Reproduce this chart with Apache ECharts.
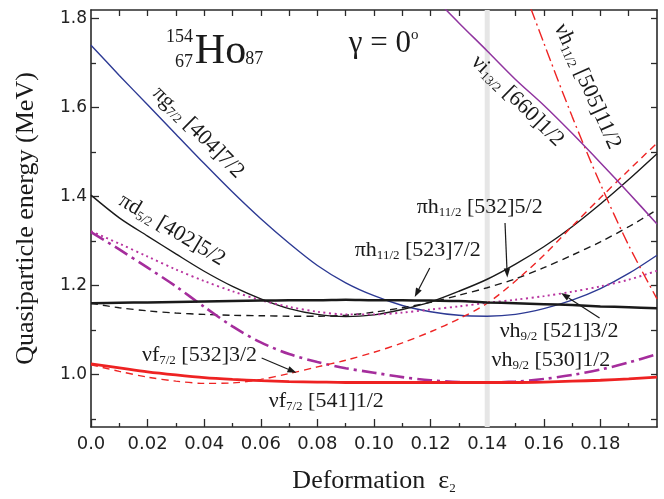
<!DOCTYPE html>
<html><head><meta charset="utf-8">
<script src="https://cdn.jsdelivr.net/npm/echarts@6/dist/echarts.min.js"></script>
<style>html,body{margin:0;padding:0;background:#fff}#c{width:664px;height:499px}</style>
</head><body><div id="c"></div>
<script>
// ---- data (deformation eps2 vs quasiparticle energy, MeV) ----
const eps = [0,0.01,0.02,0.03,0.04,0.05,0.06,0.07,0.08,0.09,0.10,0.11,0.12,0.13,0.14,0.15,0.16,0.17,0.18,0.19,0.20];
const piG404 = [1.740,1.672,1.606,1.540,1.474,1.410,1.350,1.295,1.245,1.206,1.177,1.155,1.141,1.133,1.131,1.135,1.148,1.167,1.193,1.227,1.268];
const piD402 = [1.403,1.352,1.311,1.271,1.232,1.198,1.170,1.148,1.135,1.130,1.134,1.146,1.163,1.187,1.214,1.248,1.287,1.332,1.383,1.438,1.496];
const piH523 = [1.160,1.161,1.162,1.163,1.164,1.165,1.166,1.167,1.167,1.168,1.167,1.167,1.166,1.165,1.162,1.160,1.158,1.156,1.153,1.151,1.149];
const piH532 = [1.160,1.150,1.143,1.138,1.135,1.133,1.132,1.131,1.131,1.133,1.140,1.150,1.162,1.178,1.195,1.215,1.240,1.268,1.298,1.332,1.370];
const nuH521 = [1.322,1.294,1.265,1.236,1.210,1.187,1.167,1.152,1.141,1.135,1.135,1.139,1.146,1.153,1.161,1.168,1.176,1.186,1.198,1.213,1.233];
const nuH530 = [1.320,1.281,1.240,1.198,1.152,1.108,1.072,1.046,1.028,1.014,1.004,0.994,0.987,0.983,0.982,0.984,0.990,0.999,1.011,1.027,1.046];
const nuF541 = [1.024,1.015,1.006,0.999,0.993,0.989,0.986,0.984,0.983,0.982,0.982,0.982,0.982,0.982,0.982,0.982,0.983,0.985,0.987,0.990,0.994];
const nuF532 = [1.022,1.007,0.994,0.985,0.980,0.981,0.989,1.002,1.017,1.032,1.050,1.071,1.096,1.125,1.160,1.210,1.268,1.333,1.397,1.459,1.520];
const epsH505 = [0.15,0.16,0.17,0.18,0.19,0.20];
const nuH505 = [1.915,1.745,1.580,1.428,1.290,1.170];
const epsI660 = [0.12,0.13,0.14,0.15,0.16,0.17,0.18,0.19,0.20];
const nuI660 = [1.855,1.790,1.727,1.663,1.605,1.542,1.476,1.408,1.338];
const bandEps = [0.14, 0.14];
const bandE = [0.882, 1.819];

const xRange = [0, 0.2];
const yRange = [0.882, 1.819];
const xMajor = [0,0.02,0.04,0.06,0.08,0.10,0.12,0.14,0.16,0.18];
const xLabels = ['0.0','0.02','0.04','0.06','0.08','0.10','0.12','0.14','0.16','0.18'];
const xMinor = [0.01,0.03,0.05,0.07,0.09,0.11,0.13,0.15,0.17,0.19];
const xAll = [0.01,0.02,0.03,0.04,0.05,0.06,0.07,0.08,0.09,0.10,0.11,0.12,0.13,0.14,0.15,0.16,0.17,0.18,0.19];
const yMajor = [1.0,1.2,1.4,1.6,1.8];
const yLabels = ['1.0','1.2','1.4','1.6','1.8'];
const yMinor = [0.9,1.1,1.3,1.5,1.7];
const yAll = [0.9,1.0,1.1,1.2,1.3,1.4,1.5,1.6,1.7,1.8];

// annotation anchors in data coordinates
const labels = [
  {m1:'πg', s:'7/2', m2:' [404]7/2', at:[0.0379,1.5438], rot:-45, align:'center'},
  {m1:'πd', s:'5/2', m2:' [402]5/2', at:[0.0286,1.3247], rot:-31, align:'center'},
  {m1:'νi', s:'13/2', m2:' [660]1/2', at:[0.1507,1.6146], rot:-44.4, align:'center'},
  {m1:'νh', s:'11/2', m2:' [505]11/2', at:[0.1754,1.6472], rot:-65.7, align:'center'},
  {m1:'πh', s:'11/2', m2:' [532]5/2', at:[0.1151,1.3753], rot:0, align:'left'},
  {m1:'πh', s:'11/2', m2:' [523]7/2', at:[0.0932,1.2798], rot:0, align:'left'},
  {m1:'νh', s:'9/2', m2:' [521]3/2', at:[0.1444,1.0978], rot:0, align:'left'},
  {m1:'νh', s:'9/2', m2:' [530]1/2', at:[0.1415,1.0326], rot:0, align:'left'},
  {m1:'νf', s:'7/2', m2:' [532]3/2', at:[0.0180,1.0427], rot:0, align:'left'},
  {m1:'νf', s:'7/2', m2:' [541]1/2', at:[0.0628,0.9404], rot:0, align:'left'}
];
const arrows = [
  [[0.1463,1.3404],[0.1471,1.218]],
  [[0.1197,1.2393],[0.1144,1.1742]],
  [[0.1797,1.1270],[0.1661,1.1831]],
  [[0.0603,1.0371],[0.0726,1.0040]]
];
const titleParts = [
  {t:'154', at:[0.0360,1.7573], size:18, align:'right'},
  {t:'67', at:[0.0360,1.7011], size:18, align:'right'},
  {t:'Ho', at:[0.0367,1.7243], size:42, align:'left'},
  {t:'87', at:[0.0545,1.7090], size:18, align:'left'}
];
const gammaAt = [0.0911,1.7427];

const SERIF = '"Liberation Serif","Times New Roman",serif';
const SANS = '"DejaVu Sans",sans-serif';
const INK = '#1a1a1a';
const AX = '#2a2a2a';

function zip(xs, ys){ return xs.map((x,i)=>[x, ys[i]]); }
function line(name, xs, ys, color, width, type, z){
  return {name, type:'line', data: zip(xs, ys), smooth:0.3, symbol:'none', clip:true,
    xAxisIndex:0, yAxisIndex:0, z: z||3,
    lineStyle:{color, width, type: type||'solid', cap:'butt'}};
}

const baseX = {type:'value', min:xRange[0], max:xRange[1], splitLine:{show:false}, gridIndex:0};
const baseY = {type:'value', min:yRange[0], max:yRange[1], splitLine:{show:false}, gridIndex:0};
const offLine = {show:false};
const axLine = {show:true, onZero:false, lineStyle:{color:AX, width:1.6}};

const option = {
  animation:false,
  backgroundColor:'#fff',
  grid:{left:91, right:7, top:10, bottom:72, containLabel:false, outerBoundsMode:'none'},
  xAxis:[
    Object.assign({}, baseX, {position:'bottom', axisLine:axLine,
      axisTick:{show:true, inside:true, length:8, customValues:xMajor, lineStyle:{color:AX, width:1.3}},
      axisLabel:{show:true, customValues:xMajor, margin:8, fontFamily:SANS, fontSize:18, color:'#222',
        formatter:(v)=>{const i=xMajor.findIndex(u=>Math.abs(u-v)<1e-9); return i>=0?xLabels[i]:'';}},
      name:'{m|Deformation\u2002ε}{s|2}', nameLocation:'middle', nameGap:40,
      nameTextStyle:{rich:{m:{fontFamily:SERIF, fontSize:26, color:INK, lineHeight:28},
                           s:{fontFamily:SERIF, fontSize:13, color:INK, lineHeight:10, verticalAlign:'bottom'}}}}),
    Object.assign({}, baseX, {position:'bottom', axisLine:offLine,
      axisTick:{show:true, inside:true, length:4, customValues:xMinor, lineStyle:{color:AX, width:1.3}},
      axisLabel:{show:false}}),
    Object.assign({}, baseX, {position:'top', axisLine:axLine,
      axisTick:{show:true, inside:true, length:6, customValues:xAll, lineStyle:{color:AX, width:1.3}},
      axisLabel:{show:false}})
  ],
  yAxis:[
    Object.assign({}, baseY, {position:'left', axisLine:axLine,
      axisTick:{show:true, inside:true, length:8, customValues:yMajor, lineStyle:{color:AX, width:1.3}},
      axisLabel:{show:true, customValues:yMajor, margin:4, fontFamily:SANS, fontSize:17, color:'#222',
        formatter:(v)=>{const i=yMajor.findIndex(u=>Math.abs(u-v)<1e-9); return i>=0?yLabels[i]:'';}},
      name:'Quasiparticle energy (MeV)', nameLocation:'middle', nameGap:52,
      nameTextStyle:{fontFamily:SERIF, fontSize:26, color:INK}}),
    Object.assign({}, baseY, {position:'left', axisLine:offLine,
      axisTick:{show:true, inside:true, length:5, customValues:yMinor, lineStyle:{color:AX, width:1.3}},
      axisLabel:{show:false}}),
    Object.assign({}, baseY, {position:'right', axisLine:axLine,
      axisTick:{show:true, inside:true, length:6, customValues:yAll, lineStyle:{color:AX, width:1.3}},
      axisLabel:{show:false}})
  ],
  series:[
    {name:'band', type:'line', data:zip(bandEps, bandE), symbol:'none', clip:true, z:1,
      xAxisIndex:0, yAxisIndex:0, lineStyle:{color:'#e6e6e6', width:5, cap:'butt'}},
    line('piG404', eps, piG404, '#2d3a94', 1.4),
    line('piD402', eps, piD402, INK, 1.4),
    line('piH532', eps, piH532, INK, 1.4, [7,5]),
    line('nuH521', eps, nuH521, '#b8339f', 1.9, [2,3.5]),
    line('nuH530', eps, nuH530, '#a52d9c', 2.6, [15,5,3,5]),
    line('nuF532', eps, nuF532, '#ee2424', 1.4, [7,5]),
    line('nuH505', epsH505, nuH505, '#ee2424', 1.4, [12,4,2,4]),
    line('nuI660', epsI660, nuI660, '#90349f', 1.5),
    line('piH523', eps, piH523, INK, 2.5),
    line('nuF541', eps, nuF541, '#ee2222', 2.8)
  ]
};

const chart = echarts.init(document.getElementById('c'), null, {renderer:'canvas'});
chart.setOption(option);

const toPx = (p)=>chart.convertToPixel({seriesIndex:1}, p);
const rich = {
  m:{fontFamily:SERIF, fontSize:22, lineHeight:24, fill:INK, color:INK},
  s:{fontFamily:SERIF, fontSize:13, lineHeight:11, verticalAlign:'bottom', fill:INK, color:INK},
  g:{fontFamily:SERIF, fontSize:31, lineHeight:32, fill:INK, color:INK},
  o:{fontFamily:SERIF, fontSize:15, lineHeight:14, verticalAlign:'top', fill:INK, color:INK}
};
const graphics = [];
labels.forEach(l=>{
  const p = toPx(l.at);
  graphics.push({type:'text', x:p[0], y:p[1], rotation:l.rot*Math.PI/180, z:100,
    style:{text:'{m|'+l.m1+'}{s|'+l.s+'}{m|'+l.m2+'}', rich, align:l.align, textAlign:l.align,
      verticalAlign:'middle', textVerticalAlign:'middle', fill:INK}});
});
titleParts.forEach(t=>{
  const p = toPx(t.at);
  graphics.push({type:'text', x:p[0], y:p[1], z:100,
    style:{text:t.t, fontFamily:SERIF, fontSize:t.size, font:t.size+'px '+SERIF, align:t.align, textAlign:t.align,
      verticalAlign:'middle', textVerticalAlign:'middle', fill:INK}});
});
{
  const p = toPx(gammaAt);
  graphics.push({type:'text', x:p[0], y:p[1], z:100,
    style:{text:'{g|γ = 0}{o|o}', rich, align:'left', textAlign:'left', verticalAlign:'middle', textVerticalAlign:'middle', fill:INK}});
}
arrows.forEach(a=>{
  const p0 = toPx(a[0]), p1 = toPx(a[1]);
  const dx = p1[0]-p0[0], dy = p1[1]-p0[1], L = Math.hypot(dx,dy);
  const ux = dx/L, uy = dy/L, hl = 9, hw = 3.2;
  const bx = p1[0]-ux*hl, by = p1[1]-uy*hl;
  graphics.push({type:'line', z:100, shape:{x1:p0[0], y1:p0[1], x2:bx, y2:by}, style:{stroke:INK, lineWidth:1.2}});
  graphics.push({type:'polygon', z:100, shape:{points:[[p1[0],p1[1]],[bx-uy*hw, by+ux*hw],[bx+uy*hw, by-ux*hw]]}, style:{fill:INK}});
});
chart.setOption({graphic:graphics});
</script>
</body></html>
